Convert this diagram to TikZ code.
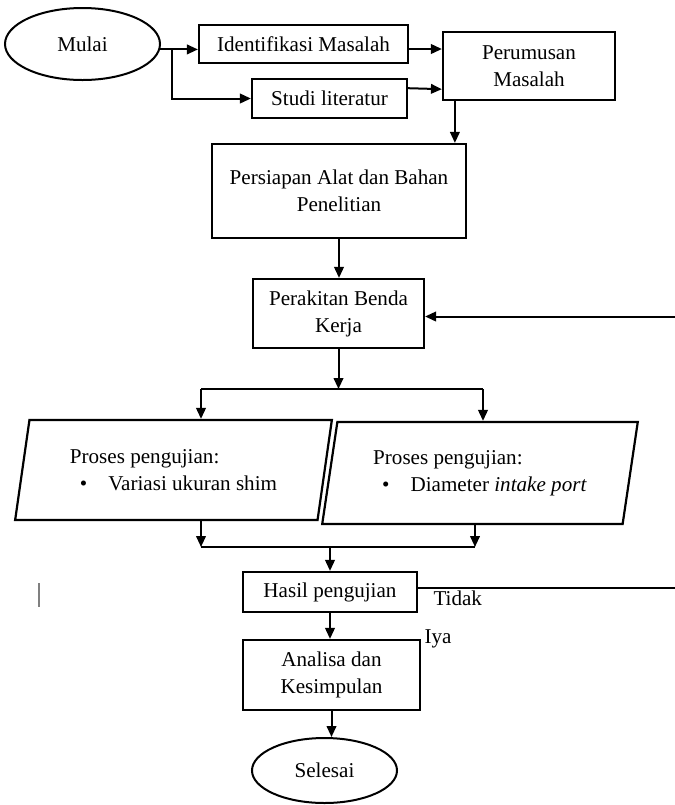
\documentclass[tikz,border=0pt]{standalone}
\usepackage{fontspec}
\setmainfont{Liberation Serif}
\usetikzlibrary{shapes.geometric,arrows.meta,positioning,calc}

\begin{document}
\begin{tikzpicture}[
    x=0.5pt, y=-0.5pt,
    every node/.style={font=\fontsize{10.55pt}{13.5pt}\selectfont},
    box/.style={rectangle, draw, line width=1.1pt, inner sep=0pt, align=center},
    term/.style={ellipse, draw, line width=1pt, inner sep=0pt},
    io/.style={trapezium, trapezium left angle=76, trapezium right angle=104,
        trapezium stretches=true, draw, line width=1.1pt, inner sep=0pt, align=left},
    arr/.style={-{Triangle[length=5.5pt,width=4.8pt]}, line width=1pt},
    line/.style={line width=1pt},
    lbl/.style={inner sep=0pt}
]
    \useasboundingbox (0,0) rectangle (675,805);

    % Start and first steps
    \node[term, minimum width=77.5pt, minimum height=36pt] (mulai) at (82.5,44) {Mulai};
    \node[box, minimum width=104.5pt, minimum height=19pt] (ident) at (303.5,44) {Identifikasi Masalah};
    \node[box, minimum width=77.5pt, minimum height=19.5pt] (studi) at (329.5,98.5) {Studi literatur};
    \node[box, minimum width=86pt, minimum height=34pt] (rumus) at (529,66) {Perumusan\\Masalah};
    \node[box, minimum width=127pt, minimum height=47pt] (siap) at (339,191) {Persiapan Alat dan Bahan\\Penelitian};
    \node[box, minimum width=85.5pt, minimum height=34.5pt] (rakit) at (338.5,313.5) {Perakitan Benda\\Kerja};

    % Testing processes
    \node[io, minimum width=158.5pt, minimum height=50pt] (uji1) at (173.5,470)
        {Proses pengujian:\\\hspace*{5pt}\textbullet\hspace{10.5pt}Variasi ukuran shim};
    \node[io, minimum width=158pt, minimum height=51pt] (uji2) at (480,473)
        {Proses pengujian:\\\hspace*{4.5pt}\textbullet\hspace{10.5pt}Diameter \textit{intake port}};

    % Result and end
    \node[box, minimum width=87pt, minimum height=20pt] (hasil) at (330,592) {Hasil pengujian};
    \node[box, minimum width=88.5pt, minimum height=35pt] (analisa) at (331.5,675) {Analisa dan\\Kesimpulan};
    \node[term, minimum width=72.5pt, minimum height=32.5pt] (selesai) at (324.5,770.5) {Selesai};

    \node[lbl, anchor=north west] (tidak) at ([xshift=7.5pt,yshift=1pt]hasil.east) {Tidak};
    \node[lbl, anchor=north west] (iya) at ([xshift=1.5pt,yshift=5pt]analisa.north east) {Iya};

    % Branch points
    \coordinate (brx) at (172,0);
    \coordinate (br) at (mulai.-4 -| brx);
    \coordinate (splitL) at (201,389);
    \coordinate (splitR) at (483,389);
    \coordinate (joinL) at (201,547);
    \coordinate (joinR) at (475,547);
    \coordinate (fb) at (675,450);

    \draw[arr] (mulai.-4) -- (mulai.-4 -| ident.west);
    \draw[arr] (br) |- (studi.west);
    \draw[arr] ([yshift=-2.5pt]ident.east) -- ([yshift=-2.5pt]ident.east -| rumus.west);
    \draw[arr] ($(studi.north east)!0.25!(studi.south east)$) -- ($(rumus.north west)!0.83!(rumus.south west)$);
    \draw[arr] ([xshift=6.5pt]rumus.south west) -- ([xshift=6.5pt]rumus.south west |- siap.north);
    \draw[arr] (siap.south) -- (siap.south |- rakit.north);

    % Split into two tests
    \draw[arr] (rakit.south) -- (rakit.south |- splitL);
    \draw[line] (splitL) -- (splitR);
    \draw[arr] (splitL) -- (splitL |- uji1.north);
    \draw[arr] (splitR) -- (splitR |- uji2.north);

    % Join the tests
    \draw[arr] (joinL |- uji1.south) -- (joinL);
    \draw[arr] (joinR |- uji2.south) -- (joinR);
    \draw[line] (joinL) -- (joinR);
    \draw[arr] (joinL -| hasil.north) -- (hasil.north);

    \draw[arr] (hasil.south) -- (hasil.south |- analisa.north);
    \draw[arr] (analisa.south) -- (analisa.south |- selesai.north);

    % Loop back (Tidak)
    \draw[line] ([yshift=2pt]hasil.east) -- ([yshift=2pt]hasil.east -| fb);
    \draw[arr] ([yshift=-1.5pt]fb |- rakit.east) -- ([yshift=-1.5pt]rakit.east);

    % stray mark
    \draw[gray, line width=0.7pt] (39,583) -- (39,607);
\end{tikzpicture}
\end{document}
